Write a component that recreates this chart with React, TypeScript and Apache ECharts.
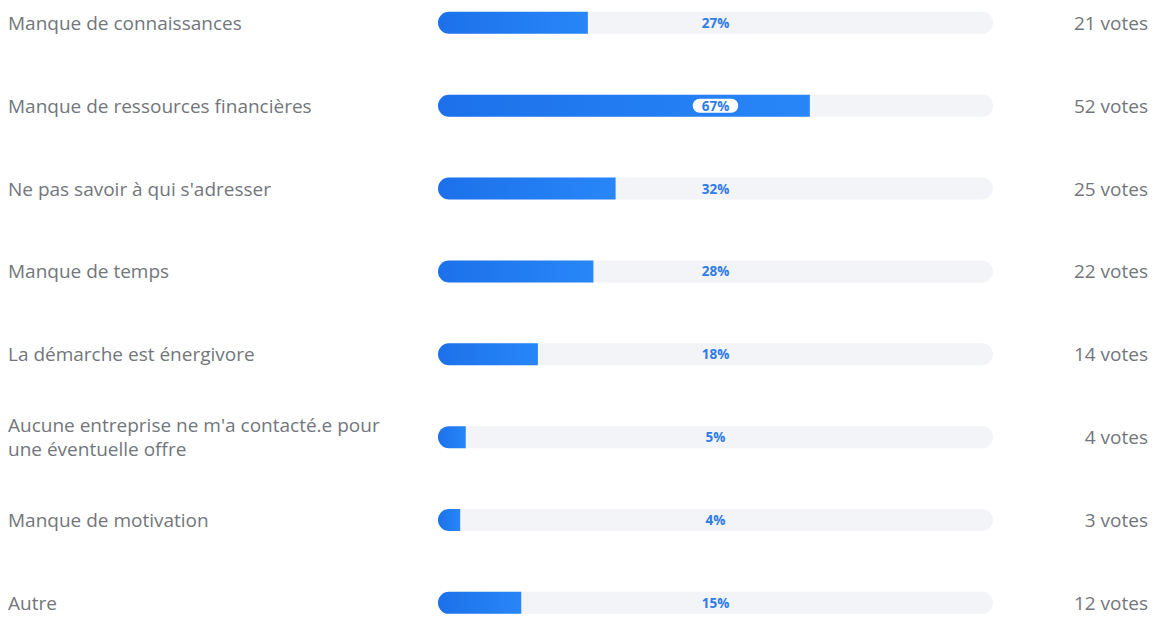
import React, { useEffect, useRef } from "react";
import * as echarts from "echarts";

const categories = [
  "Manque de connaissances",
  "Manque de ressources financières",
  "Ne pas savoir à qui s'adresser",
  "Manque de temps",
  "La démarche est énergivore",
  "Aucune entreprise ne m'a contacté.e pour\nune éventuelle offre",
  "Manque de motivation",
  "Autre",
];
const percents = [27, 67, 32, 28, 18, 5, 4, 15];
const votes = [21, 52, 25, 22, 14, 4, 3, 12];
const highlighted = [false, true, false, false, false, false, false, false];

const SHIFT = 40;

export default function App() {
  const ref = useRef<HTMLDivElement>(null);
  useEffect(() => {
    if (!ref.current) return;
    const chart = echarts.init(ref.current, null, { renderer: "svg" });
    const font = "'Open Sans', sans-serif";
    chart.setOption({
      animation: false,
      grid: { left: 438, width: 555, top: SHIFT - 18.6, height: 662.9 },
      xAxis: { type: "value", min: 0, max: 100, show: false },
      yAxis: [
        {
          type: "category",
          data: categories,
          inverse: true,
          axisLine: { show: false },
          axisTick: { show: false },
          splitLine: { show: false },
          axisLabel: {
            align: "left",
            margin: 430,
            color: "#72767c",
            fontSize: 19,
            lineHeight: 24,
            fontFamily: font,
          },
        },
        {
          type: "category",
          position: "right",
          data: votes.map((v) => `${v} votes`),
          inverse: true,
          axisLine: { show: false },
          axisTick: { show: false },
          splitLine: { show: false },
          axisLabel: {
            align: "right",
            margin: 155,
            color: "#72767c",
            fontSize: 19,
            fontFamily: font,
          },
        },
      ],
      series: [
        {
          type: "bar",
          yAxisIndex: 0,
          data: percents,
          barWidth: 22,
          showBackground: true,
          backgroundStyle: { color: "#f3f4f8", borderRadius: 11 },
          itemStyle: {
            borderRadius: [11, 0, 0, 11],
            color: new echarts.graphic.LinearGradient(0, 0, 1, 0, [
              { offset: 0, color: "#1c71ea" },
              { offset: 1, color: "#2886f8" },
            ]),
          },
          silent: true,
        },
        {
          type: "bar",
          yAxisIndex: 1,
          data: percents.map(() => 100),
          barWidth: 22,
          itemStyle: { color: "rgba(0,0,0,0)" },
          silent: true,
          label: {
            show: true,
            position: "inside",
            formatter: (p: any) =>
              highlighted[p.dataIndex]
                ? `{h|${percents[p.dataIndex]}%}`
                : `{n|${percents[p.dataIndex]}%}`,
            rich: {
              n: {
                color: "#2f7be8",
                fontSize: 13.5,
                fontWeight: "bold",
                fontFamily: font,
              },
              h: {
                color: "#2f7be8",
                fontSize: 13.5,
                fontWeight: "bold",
                fontFamily: font,
                backgroundColor: "#ffffff",
                borderRadius: 8,
                padding: [0, 9, 0, 9],
              },
            },
          },
        },
      ],
    });
    return () => chart.dispose();
  }, []);
  return (
    <div
      style={{
        position: "absolute",
        left: 0,
        top: 0,
        width: 1158,
        height: 617,
        overflow: "hidden",
      }}
    >
      <div
        ref={ref}
        style={{ position: "absolute", left: 0, top: -SHIFT, width: 1158, height: 700 }}
      />
    </div>
  );
}
